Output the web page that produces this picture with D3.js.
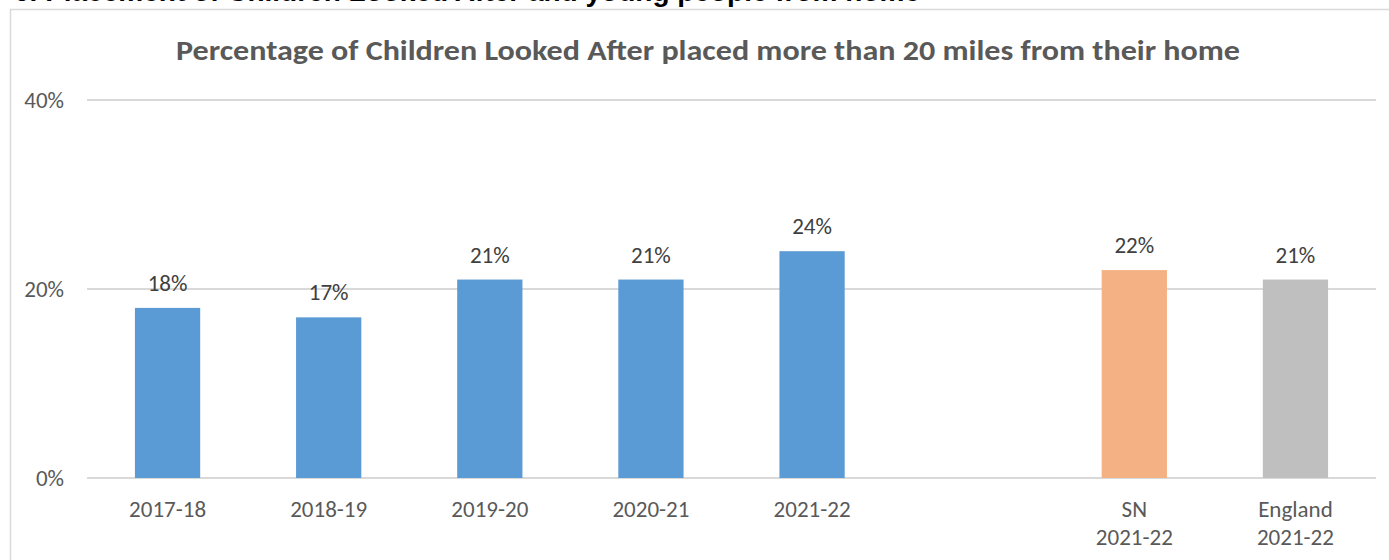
<!DOCTYPE html>
<html>
<head>
<meta charset="utf-8">
<script src="https://cdn.jsdelivr.net/npm/d3@7"></script>
<style>
  html, body { margin: 0; padding: 0; background: #fff; }
  svg { display: block; }
  text { font-family: Carlito, Calibri, "Open Sans", sans-serif; }
</style>
</head>
<body>
<svg id="chart" width="1389" height="560"></svg>
<script>
// Category labels (multi-line labels split on "\n"); an empty slot separates the comparators
const categories = ["2017-18", "2018-19", "2019-20", "2020-21", "2021-22", "", "SN\n2021-22", "England\n2021-22"];
const values     = [18, 17, 21, 21, 24, null, 22, 21];
const barColors  = ["#5B9BD5", "#5B9BD5", "#5B9BD5", "#5B9BD5", "#5B9BD5", null, "#F4B183", "#BFBFBF"];
const yTicks     = [0, 20, 40];
const titleText  = "Percentage of Children Looked After placed more than 20 miles from their home";
const headingText = "6. Placement of Children Looked After and young people from home";

const svg = d3.select("#chart");
const W = 1389, H = 560;
const plot = { left: 87, right: 1376, top: 100, bottom: 478 };
const labelFont = 'Carlito, Calibri, "Open Sans", sans-serif';

// Section heading above the chart frame (its top runs off the page)
svg.append("text")
  .attr("x", 14).attr("y", 0.5)
  .attr("font-weight", "bold")
  .attr("font-size", 28)
  .attr("fill", "#000")
  .style("font-family", "'Liberation Sans', Arial, sans-serif")
  .text(headingText);

// Chart frame
svg.append("rect")
  .attr("x", 10.5).attr("y", 9.5)
  .attr("width", W + 20).attr("height", H + 20)
  .attr("fill", "#fff")
  .attr("stroke", "#D9D9D9").attr("stroke-width", 1.5);

const x = d3.scaleBand()
  .domain(d3.range(categories.length))
  .range([plot.left, plot.right])
  .paddingInner(0.595).paddingOuter(0.2975);

const y = d3.scaleLinear().domain([0, 40]).range([plot.bottom, plot.top]);

// Title
svg.append("text")
  .attr("x", 708).attr("y", 60)
  .attr("text-anchor", "middle")
  .attr("font-weight", "bold")
  .attr("font-size", 28)
  .attr("fill", "#595959")
  .attr("textLength", 1064)
  .attr("lengthAdjust", "spacingAndGlyphs")
  .text(titleText);

// Gridlines
svg.append("g")
  .selectAll("line").data(yTicks).join("line")
  .attr("x1", plot.left).attr("x2", plot.right)
  .attr("y1", d => y(d)).attr("y2", d => y(d))
  .attr("stroke", "#D9D9D9").attr("stroke-width", 2);

// Y axis labels
const yAxis = d3.axisLeft(y).tickValues(yTicks).tickFormat(d => d + "%").tickSize(0).tickPadding(0);
const gy = svg.append("g").attr("transform", `translate(64,0)`).call(yAxis);
gy.select(".domain").remove();
gy.selectAll("text")
  .attr("font-size", 23)
  .attr("fill", "#595959")
  .attr("dy", "0.32em")
  .style("font-family", labelFont);

// Bars
const idx = d3.range(categories.length).filter(i => values[i] != null);
svg.append("g")
  .selectAll("rect").data(idx).join("rect")
  .attr("x", i => x(i)).attr("width", x.bandwidth())
  .attr("y", i => y(values[i]))
  .attr("height", i => y(0) - y(values[i]))
  .attr("fill", i => barColors[i]);

// Data labels
svg.append("g")
  .selectAll("text").data(idx).join("text")
  .attr("x", i => x(i) + x.bandwidth() / 2)
  .attr("y", i => y(values[i]) - 17)
  .attr("text-anchor", "middle")
  .attr("font-size", 23)
  .attr("fill", "#404040")
  .text(i => values[i] + "%");

// X axis labels
const xAxis = d3.axisBottom(x).tickFormat(() => "").tickSize(0);
const gx = svg.append("g").attr("transform", `translate(0,${plot.bottom})`).call(xAxis);
gx.select(".domain").remove();
gx.selectAll(".tick").each(function(i) {
  const lines = categories[i].split("\n");
  const t = d3.select(this).select("text")
    .attr("y", 0).attr("dy", null)
    .attr("font-size", 23)
    .attr("fill", "#595959")
    .style("font-family", labelFont);
  lines.forEach((ln, k) => {
    t.append("tspan").attr("x", 0).attr("y", 39 + k * 28).text(ln);
  });
});
</script>
</body>
</html>
